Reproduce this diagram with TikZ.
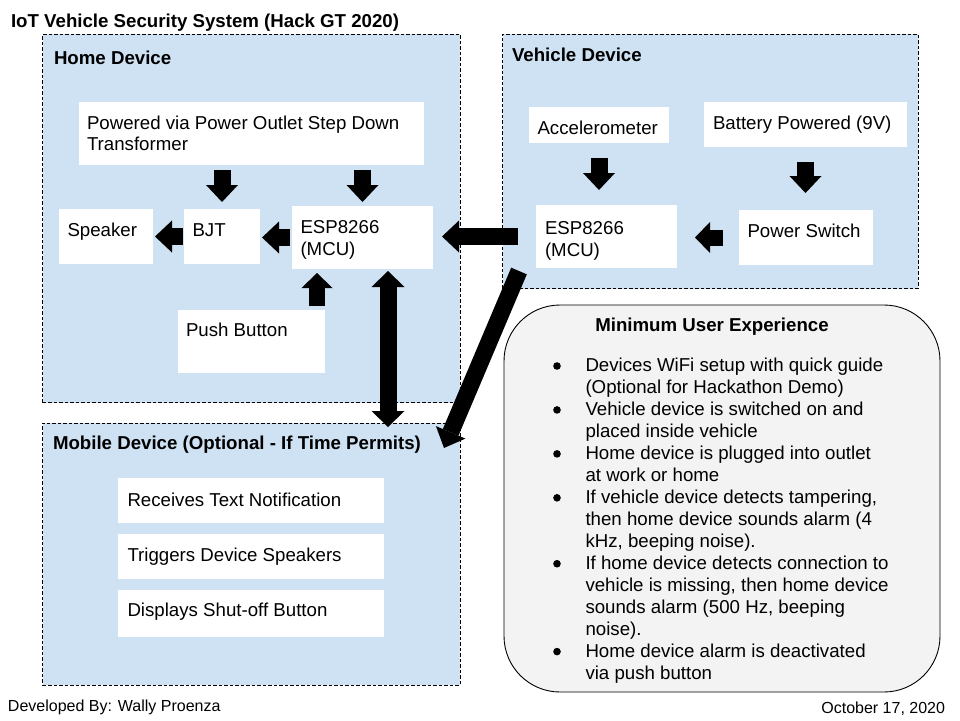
\documentclass[tikz,border=0pt]{standalone}
\usepackage{fontspec}
\setmainfont{Liberation Sans}
\usetikzlibrary{arrows.meta}
\definecolor{lblue}{HTML}{CFE2F3}
\definecolor{lgray}{HTML}{F3F3F3}
\begin{document}
\begin{tikzpicture}[x=1pt,y=-1pt,
 grp/.style={draw=black, dash pattern=on 3.5pt off 2pt, line width=0.9pt, fill=lblue, inner sep=0pt, outer sep=0pt, anchor=north west},
 wbox/.style={fill=white, inner sep=0pt, outer sep=0pt, anchor=north west},
 lbl/.style={inner sep=0pt, outer sep=0pt, anchor=base west, font=\fontsize{18.67}{22}\selectfont},
 hdr/.style={lbl, font=\fontsize{18.67}{22}\selectfont\bfseries},
 foot/.style={lbl, font=\fontsize{16}{19}\selectfont},
 blk/.style={line width=17pt, -{Triangle[width=32pt,length=17pt,line width=0pt]}},
 blks/.style={line width=16pt, -{Triangle[width=31pt,length=15pt,line width=0pt]}},
]
\useasboundingbox (0,0) rectangle (960,720);
\fill[white] (0,0) rectangle (960,720);

% title
\node[hdr] (title) at (11,27.3) {IoT Vehicle Security System (Hack GT 2020)};

% groups
\node[grp, minimum width=417.3pt, minimum height=368.2pt] (home) at (42.7,34.3) {};
\node[grp, minimum width=415.3pt, minimum height=254.5pt] (veh) at (502.7,34) {};
\node[grp, minimum width=417.3pt, minimum height=262pt] (mob) at (42.7,423) {};
\node[draw=black, line width=0.9pt, fill=lgray, rounded corners=56pt, inner sep=0pt, outer sep=0pt, anchor=north west, minimum width=436pt, minimum height=387pt] (ux) at (504,305) {};

\node[hdr] (homet) at (54,64) {Home Device};
\node[hdr] (veht) at (512,61.7) {Vehicle Device};
\node[hdr] (mobt) at (53,449.3) {Mobile Device (Optional - If Time Permits)};

% home device boxes
\node[wbox, minimum width=345pt, minimum height=63pt] (pw) at (79,102) {};
\node[wbox, minimum width=94pt, minimum height=55pt] (spk) at (59,209) {};
\node[wbox, minimum width=76pt, minimum height=55pt] (bjt) at (184,209) {};
\node[wbox, minimum width=141pt, minimum height=63pt] (esp) at (292,206) {};
\node[wbox, minimum width=147pt, minimum height=63pt] (pb) at (178,310) {};

\node[lbl] (pwt) at (87,129.3) {\parbox[t]{330pt}{\fontsize{18.67}{21.5}\selectfont Powered via Power Outlet Step Down\\Transformer}};
\node[lbl] (spkt) at (67.5,236.7) {Speaker};
\node[lbl] (bjtt) at (192.5,236.7) {BJT};
\node[lbl] (espt) at (300.5,233.3) {\parbox[t]{130pt}{\fontsize{18.67}{22}\selectfont ESP8266\\(MCU)}};
\node[lbl] (pbt0) at (186,336.7) {Push Button};

% vehicle device boxes
\node[wbox, minimum width=140pt, minimum height=36pt] (acc) at (529,107) {};
\node[wbox, minimum width=203pt, minimum height=45pt] (bat) at (704,102) {};
\node[wbox, minimum width=141pt, minimum height=63pt] (vesp) at (536,205) {};
\node[wbox, minimum width=134pt, minimum height=55pt] (ps) at (739,210) {};

\node[lbl] (acct) at (537.5,134) {Accelerometer};
\node[lbl] (batt) at (713,129.3) {Battery Powered (9V)};
\node[lbl] (vespt) at (545,234) {\parbox[t]{130pt}{\fontsize{18.67}{22}\selectfont ESP8266\\(MCU)}};
\node[lbl] (pst) at (747.5,237.3) {Power Switch};

% mobile boxes
\node[wbox, minimum width=266pt, minimum height=45pt] (r1) at (118,478) {};
\node[wbox, minimum width=266pt, minimum height=45pt] (r2) at (118,534) {};
\node[wbox, minimum width=266pt, minimum height=47pt] (r3) at (118,590) {};
\node[lbl] (r1t) at (127.5,506) {Receives Text Notification};
\node[lbl] (r2t) at (127.5,561.7) {Triggers Device Speakers};
\node[lbl] (r3t) at (127.5,616.7) {Displays Shut-off Button};

% minimum user experience
\node[hdr, anchor=base] (uxh) at (712,331.7) {Minimum User Experience};
\node[lbl] (uxt) at (585.5,371.7) {\parbox[t]{340pt}{\fontsize{18.67}{21.97}\selectfont
Devices WiFi setup with quick guide\\
(Optional for Hackathon Demo)\\
Vehicle device is switched on and\\
placed inside vehicle\\
Home device is plugged into outlet\\
at work or home\\
If vehicle device detects tampering,\\
then home device sounds alarm (4\\
kHz, beeping noise).\\
If home device detects connection to\\
vehicle is missing, then home device\\
sounds alarm (500 Hz, beeping\\
noise).\\
Home device alarm is deactivated\\
via push button}};
\foreach \k in {0,2,4,6,9,13} {
  \fill (557,{366+21.97*\k}) circle (3.8pt);
}

% footer
\node[foot] (dev) at (8,711.7) {Developed By: Wally Proenza};
\node[foot, anchor=base east] (date) at (945,713.3) {October 17, 2020};

% connectors
\draw[blk, shorten <=5pt, shorten >=7pt] (pw.south -| bjt.north) -- (bjt.north);
\draw[blk, shorten <=5pt, shorten >=4pt] (pw.south -| esp.north) -- (esp.north);
\draw[blk, shorten <=1pt, shorten >=2pt] (bjt.west) -- (bjt.west -| spk.east);
\draw[blk, shorten <=2pt, shorten >=2pt] (esp.west) -- (esp.west -| bjt.east);
\draw[blk, shorten <=18pt, shorten >=9pt] (vesp.west) -- (vesp.west -| esp.east);
\draw[blks, shorten <=16pt, shorten >=18pt] (ps.west) -- (ps.west -| vesp.east);
\draw[blk, shorten <=15pt, shorten >=15pt] (acc.south) -- (acc.south |- vesp.north);
\draw[blk, shorten <=15pt, shorten >=17pt] (bat.south) -- (bat.south |- ps.north);
\coordinate (pbtop) at ([xshift=-8pt]pb.north east);
\draw[blks, shorten <=4pt, shorten >=4pt] (pbtop) -- (pbtop |- esp.south);
\coordinate (dbt) at ([xshift=96pt]esp.south west);
\draw[line width=17pt, {Triangle[width=33pt,length=16pt,line width=0pt]}-{Triangle[width=33pt,length=16pt,line width=0pt]}, shorten <=2pt, shorten >=-4pt] (dbt) -- (dbt |- mob.north);
\coordinate (dgs) at ([xshift=-17pt,yshift=-3pt]vesp.south west);
\coordinate (dge) at ([xshift=-16pt,yshift=-25pt]mob.north east);
\draw[blk] (dgs) -- (dge);
\end{tikzpicture}
\end{document}
